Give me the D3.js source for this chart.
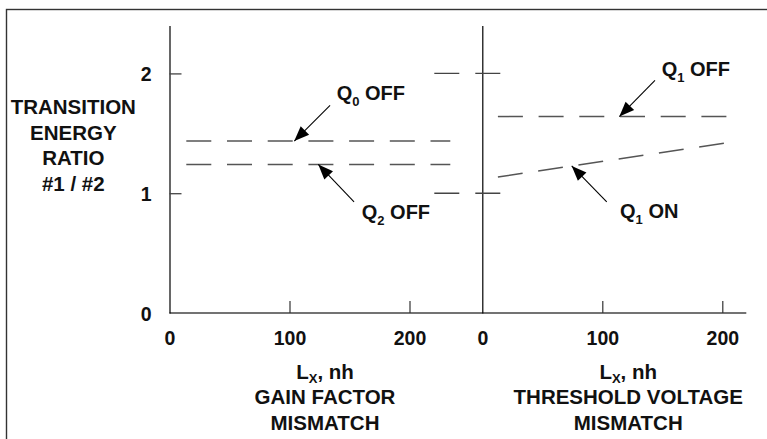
<!DOCTYPE html>
<html>
<head>
<meta charset="utf-8">
<script src="https://cdn.jsdelivr.net/npm/d3@7"></script>
<style>
  html, body { margin: 0; padding: 0; background: #fff; }
  svg text { font-family: "Liberation Sans", Arial, Helvetica, sans-serif; font-weight: bold; fill: #111; }
</style>
</head>
<body>
<svg id="chart" width="767" height="439"></svg>
<script>
// values
const xTicks = [0, 100, 200];
const yTicks = [0, 1, 2];
const rightDashTicks = [1, 2];

// left panel: gain factor mismatch
const gainQ0Off = [[14, 1.435], [234, 1.435]];
const gainQ2Off = [[14, 1.24], [234, 1.24]];
// right panel: threshold voltage mismatch
const thresholdQ1Off = [[13, 1.64], [204, 1.64]];
const thresholdQ1On = [[13, 1.135], [203, 1.42]];

const yTitle = ['TRANSITION', 'ENERGY', 'RATIO', '#1 / #2'];
const gainTitle = ['GAIN FACTOR', 'MISMATCH'];
const thresholdTitle = ['THRESHOLD VOLTAGE', 'MISMATCH'];

// callouts: text, subscript, rest, label anchor, arrow tail, arrow tip (data units)
const callouts = [
    {panel: 0, q: 'Q', sub: '0', rest: ' OFF', at: [139.3, 1.775], from: [133.8, 1.733], to: [104, 1.435]},
    {panel: 0, q: 'Q', sub: '2', rest: ' OFF', at: [160.2, 0.781], from: [153.8, 0.928], to: [124, 1.24]},
    {panel: 1, q: 'Q', sub: '1', rest: ' OFF', at: [149.5, 1.975], from: [143.9, 1.942], to: [114.2, 1.64]},
    {panel: 1, q: 'Q', sub: '1', rest: ' ON',  at: [114.8, 0.789], from: [103.7, 0.928], to: [74.5, 1.228]},
];

let svg = d3.select('#chart');

// scales, one per panel, same y
let xs = [
    d3.scaleLinear().domain([0, 200]).range([169.5, 409.5]),
    d3.scaleLinear().domain([0, 200]).range([482.3, 722.3]),
];
let y = d3.scaleLinear().domain([0, 2.4]).range([313, 25.5]);

// outer frame (only top and left edges fall inside the picture)
svg.append('rect')
    .attr('x', 6.5).attr('y', 9.5)
    .attr('width', 800).attr('height', 500)
    .attr('fill', 'none').attr('stroke', '#333').attr('stroke-width', 1.4);

let defs = svg.append('defs');
defs.append('marker')
    .attr('id', 'head')
    .attr('markerUnits', 'userSpaceOnUse')
    .attr('viewBox', '-16 -7 17 14')
    .attr('refX', 0).attr('refY', 0)
    .attr('markerWidth', 17).attr('markerHeight', 14)
    .attr('orient', 'auto')
  .append('path')
    .attr('d', 'M0,0 L-15,-6 L-15,6 Z')
    .attr('fill', '#000');

// x axis: one long line through both panels
svg.append('line')
    .attr('x1', xs[0](0)).attr('x2', xs[1](220))
    .attr('y1', y(0)).attr('y2', y(0))
    .attr('stroke', '#444').attr('stroke-width', 1.5);

xs.forEach(function(x) {
    let g = svg.append('g')
        .attr('transform', 'translate(0,' + y(0) + ')')
        .call(d3.axisBottom(x).tickValues(xTicks).tickSize(-12).tickPadding(18));
    g.select('.domain').remove();
    g.selectAll('.tick line').attr('stroke', '#333').attr('stroke-width', 1.2)
        .filter(function(d) { return d === 0; }).remove();
    g.selectAll('.tick text').attr('font-size', 19.5).attr('fill', '#111');
});

// left y axis with labels, ticks pointing inward
let yl = svg.append('g')
    .attr('transform', 'translate(' + xs[0](0) + ',0)')
    .call(d3.axisLeft(y).tickValues(yTicks).tickFormat(d3.format('d'))
        .tickSize(-12).tickSizeOuter(0).tickPadding(18));
yl.select('.domain').attr('stroke', '#000').attr('stroke-width', 1.2);
yl.selectAll('.tick line').attr('stroke', '#444').attr('stroke-width', 1.3)
    .filter(function(d) { return d === 0; }).remove();
yl.selectAll('.tick text').attr('font-size', 19.5).attr('fill', '#111').attr('dy', '0.36em');

// right y axis: bare line plus dashed marks at 1 and 2
let yr = svg.append('g')
    .attr('transform', 'translate(' + xs[1](0) + ',0)')
    .call(d3.axisLeft(y).tickValues([]).tickSizeOuter(0));
yr.select('.domain').attr('stroke', '#000').attr('stroke-width', 1.2);

svg.append('g').selectAll('line')
    .data(rightDashTicks)
    .join('line')
        .attr('x1', xs[1](-40)).attr('x2', xs[1](15))
        .attr('y1', function(d) { return y(d); })
        .attr('y2', function(d) { return y(d); })
        .attr('stroke', '#444').attr('stroke-width', 1.4)
        .attr('stroke-dasharray', '25,16');

// dashed data lines
let series = [
    {panel: 0, pts: gainQ0Off},
    {panel: 0, pts: gainQ2Off},
    {panel: 1, pts: thresholdQ1Off},
    {panel: 1, pts: thresholdQ1On},
];
svg.append('g').selectAll('path')
    .data(series)
    .join('path')
        .attr('d', function(s) {
            let x = xs[s.panel];
            return d3.line().x(function(p) { return x(p[0]); }).y(function(p) { return y(p[1]); })(s.pts);
        })
        .attr('fill', 'none')
        .attr('stroke', '#555').attr('stroke-width', 1.5)
        .attr('stroke-dasharray', '25,15.7');

// callouts with arrows
let co = svg.append('g').selectAll('g')
    .data(callouts)
    .join('g');
co.append('line')
    .attr('x1', function(d) { return xs[d.panel](d.from[0]); })
    .attr('y1', function(d) { return y(d.from[1]); })
    .attr('x2', function(d) { return xs[d.panel](d.to[0]); })
    .attr('y2', function(d) { return y(d.to[1]); })
    .attr('stroke', '#000').attr('stroke-width', 1.1)
    .attr('marker-end', 'url(#head)');
let ct = co.append('text')
    .attr('x', function(d) { return xs[d.panel](d.at[0]); })
    .attr('y', function(d) { return y(d.at[1]); })
    .attr('font-size', 20);
ct.append('tspan').text(function(d) { return d.q; });
ct.append('tspan').attr('font-size', 13).attr('dy', 6).text(function(d) { return d.sub; });
ct.append('tspan').attr('dy', -6).text(function(d) { return d.rest; });

// y title
svg.append('text')
    .attr('text-anchor', 'middle')
    .attr('font-size', 20.5)
    .selectAll('tspan')
    .data(yTitle)
    .join('tspan')
        .attr('x', 73.3)
        .attr('y', function(d, i) { return 114.3 + i * 25.5; })
        .text(function(d) { return d; });

// x titles
let xTitle = function(x, centre, lines) {
    let cx = x(centre);
    let t = svg.append('text')
        .attr('text-anchor', 'middle')
        .attr('font-size', 20.5)
        .attr('x', cx).attr('y', 379.3);
    t.append('tspan').text('L');
    t.append('tspan').attr('font-size', 13).attr('dy', 4).text('X');
    t.append('tspan').attr('dy', -4).text(', nh');
    svg.append('text')
        .attr('text-anchor', 'middle')
        .attr('font-size', 20.5)
        .selectAll('tspan')
        .data(lines)
        .join('tspan')
            .attr('x', cx)
            .attr('y', function(d, i) { return 404.3 + i * 25.7; })
            .text(function(d) { return d; });
};
xTitle(xs[0], 129.6, gainTitle);
xTitle(xs[1], 121.6, thresholdTitle);
</script>
</body>
</html>
